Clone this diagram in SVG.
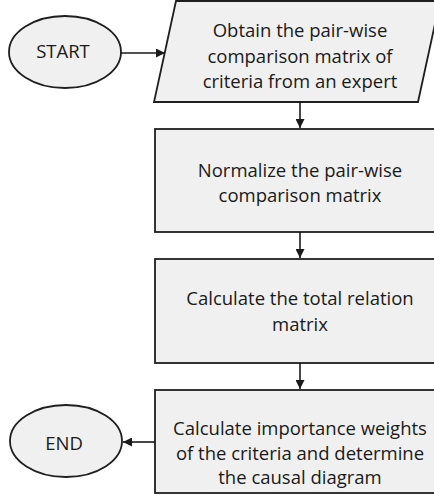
<svg xmlns="http://www.w3.org/2000/svg" width="434" height="499" viewBox="0 0 434 499">
<defs>
<marker id="arr" viewBox="0 0 10 10" refX="10" refY="5" markerWidth="9" markerHeight="9" markerUnits="userSpaceOnUse" orient="auto">
<path d="M0,0 L10,5 L0,10 z" fill="#1a1a1a"/>
</marker>
<style>
.shape{fill:#f0f0f0;stroke:#1f1f1f;stroke-width:1.8}
.t{font-family:"Open Sans","Liberation Sans",sans-serif;font-size:18.5px;fill:#1a1a1a;text-anchor:middle}
.c{stroke:#1a1a1a;stroke-width:1.6;fill:none}
</style>
</defs>
<rect width="434" height="499" fill="#ffffff"/>
<g id="start">
<ellipse class="shape" cx="65" cy="52" rx="56" ry="36"/>
<text class="t" x="63" y="58">START</text>
</g>
<g id="obtain">
<polygon class="shape" points="176,1 440,1 418,102 154,102"/>
<text class="t" x="300" y="37">Obtain the pair-wise</text>
<text class="t" x="300" y="63">comparison matrix of</text>
<text class="t" x="300" y="88">criteria from an expert</text>
</g>
<g id="normalize">
<rect class="shape" x="155" y="129" width="290" height="103"/>
<text class="t" x="300" y="177">Normalize the pair-wise</text>
<text class="t" x="300" y="202">comparison matrix</text>
</g>
<g id="total">
<rect class="shape" x="155" y="259" width="290" height="104"/>
<text class="t" x="300" y="305">Calculate the total relation</text>
<text class="t" x="300" y="331">matrix</text>
</g>
<g id="weights">
<rect class="shape" x="155" y="390" width="290" height="103"/>
<text class="t" x="300" y="435">Calculate importance weights</text>
<text class="t" x="300" y="460">of the criteria and determine</text>
<text class="t" x="300" y="484">the causal diagram</text>
</g>
<g id="end">
<ellipse class="shape" cx="66" cy="441" rx="56" ry="36"/>
<text class="t" x="64" y="450">END</text>
</g>
<g id="connectors">
<line class="c" x1="121" y1="53" x2="165" y2="53" marker-end="url(#arr)"/>
<line class="c" x1="300" y1="102" x2="300" y2="128" marker-end="url(#arr)"/>
<line class="c" x1="300" y1="232" x2="300" y2="258" marker-end="url(#arr)"/>
<line class="c" x1="300" y1="363" x2="300" y2="389" marker-end="url(#arr)"/>
<line class="c" x1="155" y1="442" x2="123" y2="442" marker-end="url(#arr)"/>
</g>
</svg>
